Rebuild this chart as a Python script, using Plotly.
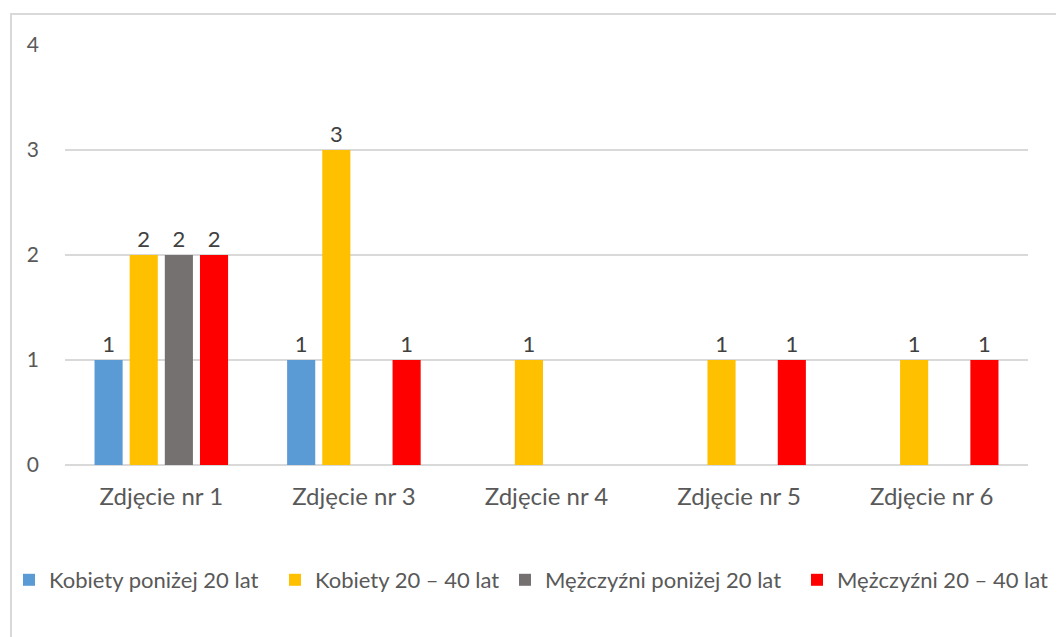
import plotly.graph_objects as go

categories = ["Zdjęcie nr 1", "Zdjęcie nr 3", "Zdjęcie nr 4", "Zdjęcie nr 5", "Zdjęcie nr 6"]
series_names = ["Kobiety poniżej 20 lat", "Kobiety 20 – 40 lat", "Mężczyźni poniżej 20 lat", "Mężczyźni 20 – 40 lat"]
kobiety_ponizej_20 = [1, 1, 0, 0, 0]
kobiety_20_40 = [2, 3, 1, 1, 1]
mezczyzni_ponizej_20 = [2, 0, 0, 0, 0]
mezczyzni_20_40 = [2, 1, 0, 1, 1]
colors = ["#5B9BD5", "#FFC000", "#767171", "#FF0000"]
y_ticks = [0, 1, 2, 3, 4]

OFF = 8  # page body margin
W, H = 1064, 637
# target plot area in page pixels: x 65..1028, y 45..465
L, R, T = 65 - OFF, 36 + OFF, 45 - OFF
B = H - (465 - OFF)
pw, ph = W - L - R, H - T - B

def px2x(px):
    return (px - OFF - L) / pw

def py2y(py):
    return (H - B - (py - OFF)) / ph

FONT = "Lato, 'Open Sans', sans-serif"

fig = go.Figure()
series = [kobiety_ponizej_20, kobiety_20_40, mezczyzni_ponizej_20, mezczyzni_20_40]
legend_text_px = [46, 312, 542, 834]
for i, (name, vals, col) in enumerate(zip(series_names, series, colors)):
    lname = "legend" if i == 0 else f"legend{i+1}"
    fig.add_trace(go.Bar(
        x=categories, y=vals, name=name,
        marker=dict(color=col, line=dict(width=0)),
        text=[str(v) if v else "" for v in vals],
        textposition="outside",
        textfont=dict(size=22, color="#404040", family=FONT),
        cliponaxis=False,
        legend=lname,
    ))

legend_common = dict(orientation="h", yanchor="middle", xanchor="left",
                     font=dict(size=22, color="#595959", family=FONT),
                     bgcolor="rgba(0,0,0,0)", itemwidth=30, tracegroupgap=0)
layout_legends = {}
for i, xp in enumerate(legend_text_px):
    lname = "legend" if i == 0 else f"legend{i+1}"
    layout_legends[lname] = dict(legend_common, x=px2x(xp - 37), y=py2y(580))

fig.update_layout(
    width=W, height=H,
    margin=dict(l=L, r=R, t=T, b=B, autoexpand=False),
    paper_bgcolor="white", plot_bgcolor="white",
    barmode="group", bargap=0.27, bargroupgap=0.2,
    showlegend=True,
    font=dict(family=FONT, color="#595959"),
    xaxis=dict(showgrid=False, showline=False, ticks="", zeroline=False,
               tickfont=dict(size=24, color="#595959"), ticklabelstandoff=15),
    yaxis=dict(range=[0, 4], tickvals=y_ticks, showgrid=True, gridcolor="#D9D9D9",
               gridwidth=2, zeroline=True, zerolinecolor="#D9D9D9", zerolinewidth=2,
               showline=False, ticks="", tickfont=dict(size=21, color="#595959"),
               ticklabelstandoff=25),
    shapes=[dict(type="rect", xref="paper", yref="paper",
                 x0=px2x(11), x1=px2x(1057), y0=py2y(660), y1=py2y(14),
                 line=dict(color="#D9D9D9", width=2), fillcolor="rgba(0,0,0,0)", layer="below")],
    **layout_legends,
)

fig.write_html("out.html")
